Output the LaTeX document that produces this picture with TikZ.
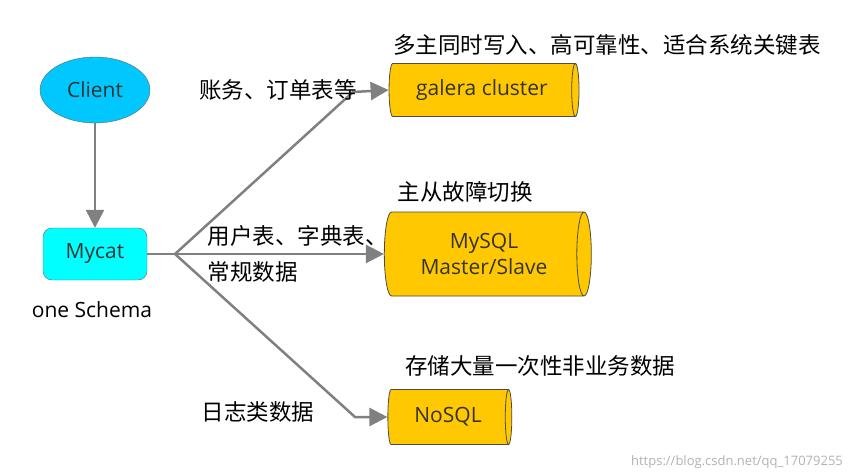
\documentclass[tikz,border=0pt]{standalone}
\usepackage{fontspec}
\setmainfont{Open Sans}
\newfontfamily\cjk{Noto Sans CJK SC}
\usetikzlibrary{shapes.geometric,arrows.meta}
\definecolor{cl}{HTML}{00C8FF}
\definecolor{my}{HTML}{00FFFF}
\definecolor{db}{HTML}{FFC800}
\definecolor{ar}{HTML}{808080}
\begin{document}
\begin{tikzpicture}[x=1pt,y=-1pt,
  lat/.style={font=\fontsize{21}{26}\selectfont, text=black!80},
  zh/.style={font=\cjk\fontsize{22.5}{26}\selectfont},
  db/.style={cylinder, draw=black!70, line width=0.8pt, fill=db, aspect=0.35, inner sep=0pt, lat},
  conn/.style={draw=ar, line width=2.5pt},
  arr/.style={conn, -{Triangle[length=18pt,width=18pt]}}]
\useasboundingbox (0,0) rectangle (864,476);
\node[ellipse, draw=black!60, fill=cl, minimum width=110pt, minimum height=66pt, lat] (client) at (95,90) {Client};
\node[draw=black!60, fill=my, rounded corners=9pt, minimum width=104pt, minimum height=52pt, lat] (mycat) at (95,254) {Mycat};
\node[lat, text=black] (schema) at (92,310) {one Schema};
\coordinate (br) at (175,254);
\coordinate (k1) at (353,92);
\coordinate (k3) at (355,417);
\node[db, minimum height=190pt, minimum width=53pt] (gal) at (482,90) {galera cluster};
\node[db, minimum height=207pt, minimum width=84pt, align=center] (mys) at (484,254) {MySQL\\Master/Slave};
\node[db, minimum height=124pt, minimum width=55pt] (nos) at (448,417) {NoSQL};
\draw[arr] (client) -- (mycat);
\draw[conn] (mycat) -- (br);
\draw[arr] (br) -- (k1) -- (gal.west);
\draw[arr] (br) -- (mys.west);
\draw[arr] (br) -- (k3) -- (nos.west);
\node[zh] (l1) at (278,90) {账务、订单表等};
\node[zh] (t1) at (607,45) {多主同时写入、高可靠性、适合系统关键表};
\node[zh] (t2) at (465,192) {主从故障切换};
\node[zh, anchor=west] (l2a) at (204,236) {用户表、字典表、};
\node[zh, anchor=west] (l2b) at (204,272) {常规数据};
\node[zh] (t3) at (540,366) {存储大量一次性非业务数据};
\node[zh] (l3) at (258,412) {日志类数据};
\node[font=\fontsize{13}{15}\selectfont, text=black!30] (wm) at (737,462) {https://blog.csdn.net/qq\_17079255};
\end{tikzpicture}
\end{document}
